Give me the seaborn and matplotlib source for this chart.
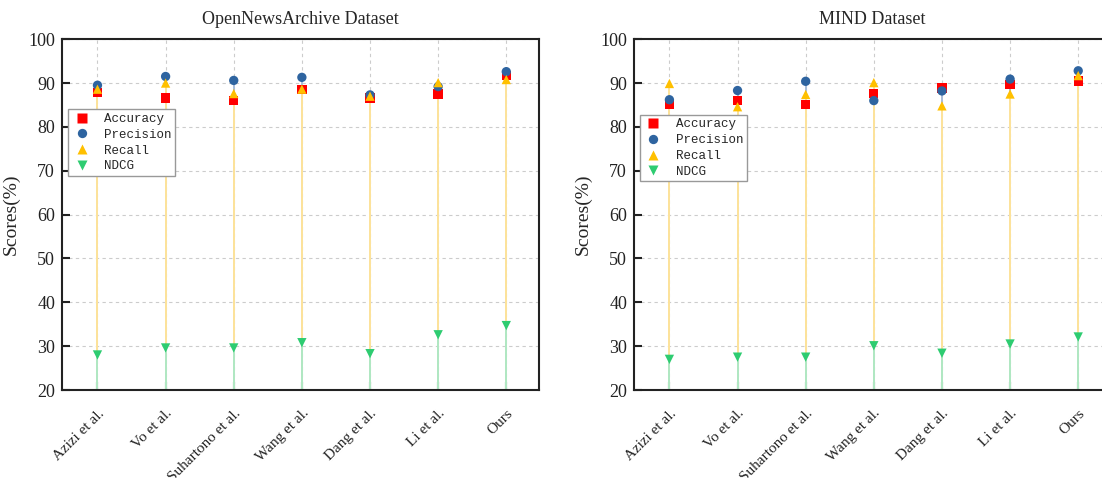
import matplotlib
matplotlib.use("Agg")
import matplotlib.pyplot as plt
import seaborn as sns
import pandas as pd

methods = ["Azizi et al.", "Vo et al.", "Suhartono et al.", "Wang et al.",
           "Dang et al.", "Li et al.", "Ours"]
metrics = ["Accuracy", "Precision", "Recall", "NDCG"]

onews_accuracy = [87.9, 86.6, 86.0, 88.5, 86.6, 87.5, 91.7]
onews_precision = [89.5, 91.5, 90.6, 91.3, 87.3, 89.2, 92.6]
onews_recall = [88.6, 90.0, 87.6, 88.6, 87.0, 90.1, 90.8]
onews_ndcg = [28.0, 29.6, 29.6, 30.8, 28.3, 32.6, 34.7]

mind_accuracy = [85.1, 86.0, 85.1, 87.6, 88.9, 89.7, 90.5]
mind_precision = [86.2, 88.3, 90.4, 86.0, 88.2, 90.9, 92.8]
mind_recall = [89.9, 84.6, 87.4, 90.1, 84.8, 87.5, 91.7]
mind_ndcg = [27.0, 27.5, 27.5, 30.1, 28.4, 30.5, 32.1]

titles = ["OpenNewsArchive Dataset", "MIND Dataset"]
datasets = [
    [onews_accuracy, onews_precision, onews_recall, onews_ndcg],
    [mind_accuracy, mind_precision, mind_recall, mind_ndcg],
]

colors = {"Accuracy": "#FF0000", "Precision": "#2E64A0",
          "Recall": "#FFC000", "NDCG": "#2ECC71"}
stem_colors = {"Accuracy": "#FFB0B0", "Precision": "#A9BEDA",
               "Recall": "#FFE49A", "NDCG": "#AEE8C4"}
markers = {"Accuracy": "s", "Precision": "o", "Recall": "^", "NDCG": "v"}

sns.set_style("white")
plt.rcParams["font.family"] = ["Liberation Serif", "DejaVu Serif"]

fig = plt.figure(figsize=(11.02, 4.78), dpi=100)
positions = [[0.0563, 0.184, 0.4328, 0.734], [0.5753, 0.184, 0.4328, 0.734]]
legend_tops = [0.80, 0.785]

for k in range(2):
    ax = fig.add_axes(positions[k])
    rows = []
    for m, vals in zip(metrics, datasets[k]):
        for meth, v in zip(methods, vals):
            rows.append({"Method": meth, "Score": v, "Metric": m})
    df = pd.DataFrame(rows)
    xs = list(range(len(methods)))
    for z, (m, vals) in enumerate(zip(metrics, datasets[k])):
        ax.vlines(xs, 20, vals, colors=stem_colors[m], linewidth=1.4, zorder=1 + z * 0.1)
    sns.scatterplot(data=df, x="Method", y="Score", hue="Metric", style="Metric",
                    palette=colors, markers=markers, hue_order=metrics,
                    style_order=metrics, s=45, edgecolor="none",
                    ax=ax, zorder=3)
    ax.set_ylim(20, 100)
    ax.set_xlim(-0.52, 6.48)
    ax.set_yticks(range(20, 101, 10))
    ax.set_xticks(xs)
    ax.set_xticklabels(methods, rotation=45, ha="right", rotation_mode="anchor",
                       fontsize=11)
    ax.tick_params(axis="y", direction="in", length=6, width=1.5, labelsize=13,
                   left=True, colors="#222222", labelcolor="#222222", pad=5)
    ax.tick_params(axis="x", direction="in", length=6, width=1.5,
                   bottom=True, colors="#2F4F3A", labelcolor="#222222", pad=12)
    ax.grid(True, linestyle=(0, (3, 3)), color="#cccccc", linewidth=0.8, zorder=0)
    ax.set_axisbelow(True)
    for sp in ax.spines.values():
        sp.set_linewidth(1.5)
        sp.set_color("#222222")
    ax.set_xlabel("")
    ax.set_ylabel("Scores(%)", fontsize=14, labelpad=6)
    ax.set_title(titles[k], fontsize=13, pad=11)
    leg = ax.legend(loc="upper left", bbox_to_anchor=(0.012, legend_tops[k]),
                    prop={"family": "Liberation Mono", "size": 9},
                    fancybox=False, edgecolor="#999999", framealpha=1,
                    handletextpad=1.0, borderpad=0.3, labelspacing=0.3,
                    handlelength=1.6, borderaxespad=0.0)
    leg.get_frame().set_linewidth(1.0)

fig.savefig("out.png", dpi=100)
